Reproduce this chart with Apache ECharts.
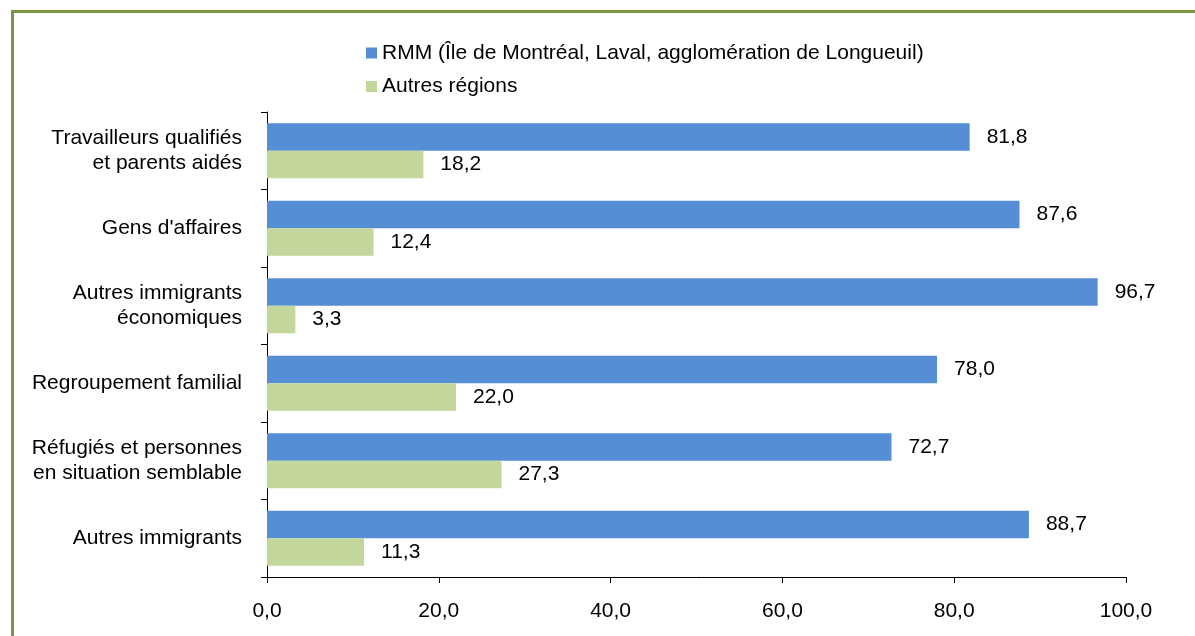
<!DOCTYPE html>
<html>
<head>
<meta charset="utf-8">
<script src="https://cdn.jsdelivr.net/npm/echarts@6/dist/echarts.min.js"></script>
<style>
html,body{margin:0;padding:0;background:#fff;overflow:hidden;}
#frame{position:absolute;left:11px;top:10px;width:2000px;height:2000px;border-top:3px solid #7A9642;border-left:3px solid #7A9642;}
#chart{position:absolute;left:0;top:0;width:1195px;height:636px;}
</style>
</head>
<body>
<div id="frame"></div>
<div id="chart"></div>
<script>
const categories = [
  "Travailleurs qualifiés\net parents aidés",
  "Gens d'affaires",
  "Autres immigrants\néconomiques",
  "Regroupement familial",
  "Réfugiés et personnes\nen situation semblable",
  "Autres immigrants"
];
const seriesNames = ["RMM (Île de Montréal, Laval, agglomération de Longueuil)", "Autres régions"];
const rmmValues = [81.8, 87.6, 96.7, 78.0, 72.7, 88.7];
const autresValues = [18.2, 12.4, 3.3, 22.0, 27.3, 11.3];
const xTicks = [0, 20, 40, 60, 80, 100];

const FONT = 'Liberation Sans, Arial, sans-serif';
const FS = 21;
const fmt = v => Number(v).toFixed(1).replace('.', ',');

const chart = echarts.init(document.getElementById('chart'), null, {renderer: 'canvas'});
chart.setOption({
  animation: false,
  backgroundColor: 'transparent',
  textStyle: {fontFamily: FONT, color: '#000'},
  legend: {
    orient: 'vertical',
    left: 366,
    top: 41,
    padding: 0,
    itemWidth: 11,
    itemHeight: 11,
    itemGap: 9.5,
    icon: 'rect',
    textStyle: {fontFamily: FONT, fontSize: FS, color: '#000', lineHeight: 24},
    data: seriesNames
  },
  grid: {left: 267, right: 69, top: 112, bottom: 59, containLabel: false},
  xAxis: {
    type: 'value',
    min: xTicks[0],
    max: xTicks[xTicks.length - 1],
    interval: xTicks[1] - xTicks[0],
    axisLine: {show: true, lineStyle: {color: '#000', width: 1}},
    axisTick: {show: true, length: 6, lineStyle: {color: '#000'}},
    splitLine: {show: false},
    axisLabel: {fontFamily: FONT, fontSize: FS, color: '#000', margin: 24, formatter: v => fmt(v)}
  },
  yAxis: {
    type: 'category',
    inverse: true,
    data: categories,
    axisLine: {show: true, lineStyle: {color: '#000', width: 1}},
    axisTick: {show: true, length: 6, lineStyle: {color: '#000'}},
    axisLabel: {fontFamily: FONT, fontSize: FS, color: '#000', margin: 25, lineHeight: 25, align: 'right'}
  },
  series: [
    {
      name: seriesNames[0],
      type: 'bar',
      data: rmmValues,
      barGap: '0%',
      barCategoryGap: '29%',
      itemStyle: {color: '#558ED5'},
      label: {show: true, position: 'right', distance: 17, fontFamily: FONT, fontSize: FS, color: '#000', formatter: p => fmt(p.value)}
    },
    {
      name: seriesNames[1],
      type: 'bar',
      data: autresValues,
      barGap: '0%',
      barCategoryGap: '29%',
      itemStyle: {color: '#C3D69B'},
      label: {show: true, position: 'right', distance: 17, fontFamily: FONT, fontSize: FS, color: '#000', formatter: p => fmt(p.value)}
    }
  ]
});
</script>
</body>
</html>
